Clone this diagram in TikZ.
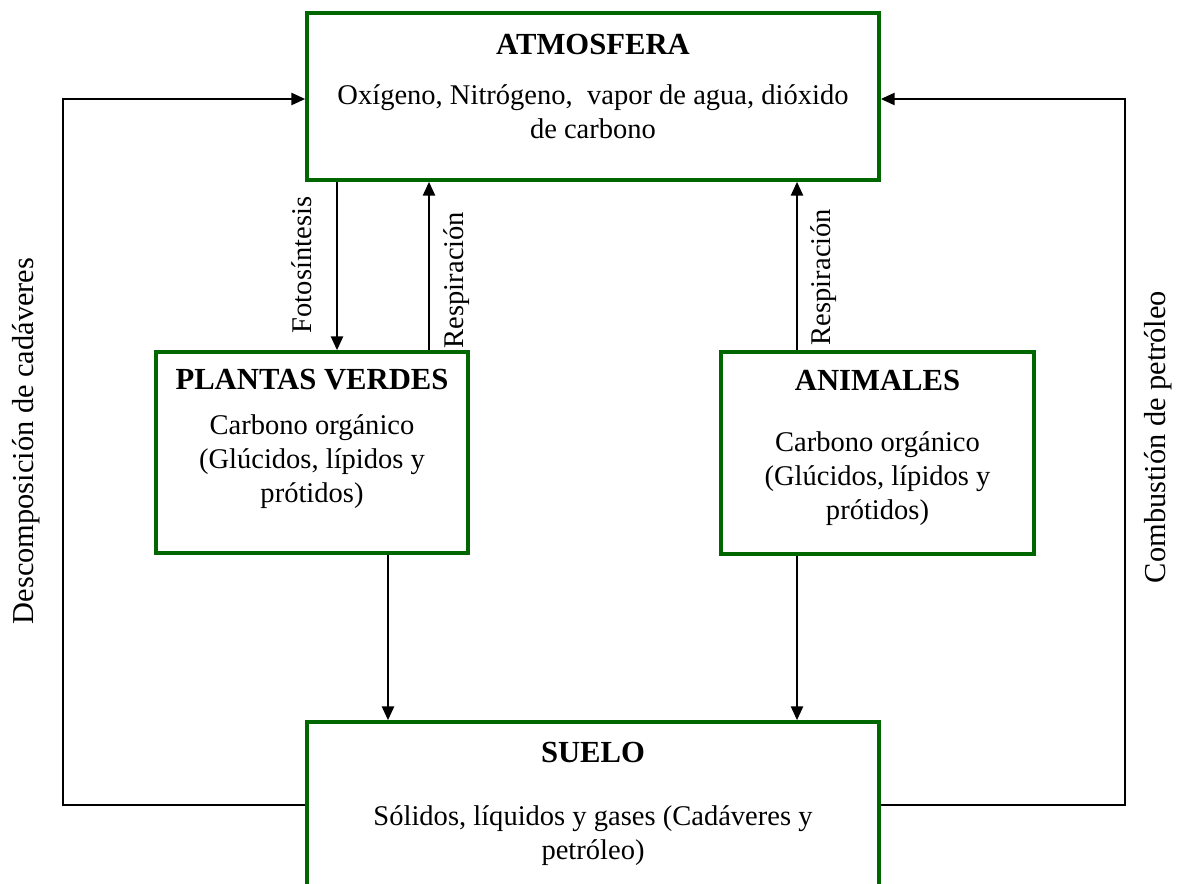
\documentclass[tikz,border=0pt]{standalone}
\usepackage{fontspec}
\setmainfont{Liberation Serif}
\usetikzlibrary{arrows.meta,calc}
\definecolor{verdecaja}{RGB}{0,102,0}

\begin{document}
\begin{tikzpicture}[x=0.75pt,y=0.75pt,yscale=-1,xscale=1,
		caja/.style={draw=verdecaja,line width=2.6pt,inner sep=0pt},
		flecha/.style={line width=2pt,-{Triangle[length=10.5pt,width=9pt]}},
		titulo/.style={font=\fontsize{23}{27}\selectfont\bfseries,inner sep=0pt},
		texto/.style={font=\fontsize{21.4}{25.5}\selectfont,align=center,inner sep=0pt},
		rotulo/.style={font=\fontsize{21.4}{25.5}\selectfont,rotate=90,inner sep=0pt},
		lado/.style={font=\fontsize{22.8}{26}\selectfont,rotate=90,inner sep=0pt}]
		\useasboundingbox (0,0) rectangle (1187,884);
		\clip (0,0) rectangle (1187,884);
		% cajas
		\node [caja,minimum width=429pt,minimum height=125.25pt] (atm) at (593,96.5) {};
		\node [caja,minimum width=234pt,minimum height=150.75pt] (plantas) at (312,452.5) {};
		\node [caja,minimum width=234.75pt,minimum height=151.5pt] (animales) at (877.5,453) {};
		\node [caja,minimum width=429pt,minimum height=148.5pt] (suelo) at (593,821) {};
		% textos de las cajas
		\node [titulo] (atmtit) at (593,45) {ATMOSFERA};
		\node [texto] (atmtxt) at (593,111.5) {Oxígeno, Nitrógeno,\ \ vapor de agua, dióxido\\de carbono};
		\node [titulo] (plantastit) at (312,380) {PLANTAS VERDES};
		\node [texto] (plantastxt) at (312,461.5) {Carbono orgánico\\(Glúcidos, lípidos y\\prótidos)};
		\node [titulo] (animalestit) at (877.5,380) {ANIMALES};
		\node [texto] (animalestxt) at (877.5,478.5) {Carbono orgánico\\(Glúcidos, lípidos y\\prótidos)};
		\node [titulo] (suelotit) at (593,752) {SUELO};
		\node [texto] (suelotxt) at (593,835.5) {Sólidos, líquidos y gases (Cadáveres y\\petróleo)};
		% puntos de paso
		\coordinate (xfoto) at (337,0);
		\coordinate (xresp) at (429,0);
		\coordinate (xanim) at (797,0);
		\coordinate (xbaja) at (388,0);
		\coordinate (ybase) at (0,805);
		\coordinate (izq) at (63,99);
		\coordinate (der) at (1125,99);
		% flechas
		\draw [flecha] (atm.south -| xfoto) -- (plantas.north -| xfoto);
		\draw [flecha] (plantas.north -| xresp) -- (atm.south -| xresp);
		\draw [flecha] (animales.north -| xanim) -- (atm.south -| xanim);
		\draw [flecha] (plantas.south -| xbaja) -- (suelo.north -| xbaja);
		\draw [flecha] (animales.south -| xanim) -- (suelo.north -| xanim);
		\draw [flecha] (ybase -| suelo.west) -| (izq) -- (izq -| atm.west);
		\draw [flecha] (ybase -| suelo.east) -| (der) -- (der -| atm.east);
		% rotulos
		\node [rotulo] (foto) at (302,265) {Fotosíntesis};
		\node [rotulo] (resp1) at (457,280) {Respiración};
		\node [rotulo] (resp2) at (824,277) {Respiración};
		\node [lado] (desc) at (26,441) {Descomposición de cadáveres};
		\node [lado] (comb) at (1158,437) {Combustión de petróleo};
\end{tikzpicture}
\end{document}
